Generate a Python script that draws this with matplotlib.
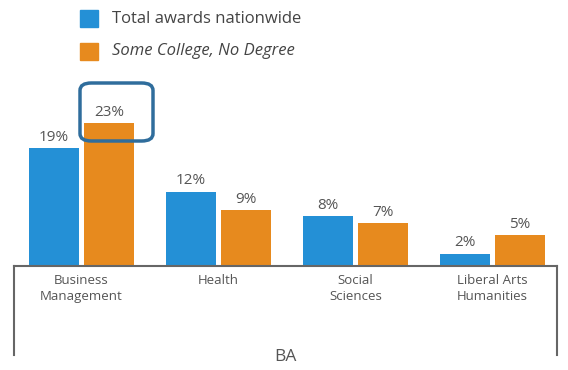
import matplotlib.pyplot as plt
import numpy as np
from matplotlib.patches import FancyBboxPatch, Rectangle

categories = ['Business\nManagement', 'Health', 'Social\nSciences', 'Liberal Arts\nHumanities']
total_awards = [19, 12, 8, 2]
some_college = [23, 9, 7, 5]

BLUE = '#2490d6'
ORANGE = '#e78a1e'
TEXT = '#555555'

plt.rcParams['font.family'] = ['Open Sans', 'DejaVu Sans']

fig = plt.figure(figsize=(5.68, 3.70), dpi=100)
W, H = 568, 370
ax = fig.add_axes([14 / W, 104 / H, 543 / W, 186 / H])

x = np.arange(len(categories))
off = 0.2
bw = 0.365
b1 = ax.bar(x - off, total_awards, bw, color=BLUE)
b2 = ax.bar(x + off, some_college, bw, color=ORANGE)

for bars, vals in ((b1, total_awards), (b2, some_college)):
    for r, v in zip(bars, vals):
        ax.text(r.get_x() + r.get_width() / 2, v + 0.5, f'{v}%',
                ha='center', va='bottom', fontsize=11, color=TEXT)

ax.set_xlim(-0.493, 3.471)
ax.set_ylim(0, 30)
ax.set_yticks([])
ax.set_xticks(x)
ax.set_xticklabels(categories, fontsize=9.5, color=TEXT, linespacing=1.3)
ax.tick_params(axis='x', length=0, pad=6)
for s in ('left', 'right', 'top'):
    ax.spines[s].set_visible(False)
ax.spines['bottom'].set_color('#666666')
ax.spines['bottom'].set_linewidth(1.5)

# bracket legs dropping below the baseline
for xa in (0, 1):
    ax.plot([xa, xa], [0, -0.478], transform=ax.transAxes, clip_on=False,
            color='#666666', lw=1.5)

ax.text(0.5, -0.49, 'BA', transform=ax.transAxes, ha='center', va='center',
        fontsize=12.5, color=TEXT)

# highlight around the largest value
hl = FancyBboxPatch((80 / W, (H - 141) / H), 73 / W, 58 / H,
                    boxstyle='round,pad=0,rounding_size=0.02',
                    transform=fig.transFigure, fill=False,
                    edgecolor='#2f6d9c', lw=2.5)
fig.patches.append(hl)

# legend
fig.patches.append(Rectangle((80 / W, (H - 27) / H), 18 / W, 17 / H,
                             transform=fig.transFigure, color=BLUE))
fig.patches.append(Rectangle((80 / W, (H - 60) / H), 18 / W, 17 / H,
                             transform=fig.transFigure, color=ORANGE))
fig.text(112 / W, (H - 19) / H, 'Total awards nationwide', va='center',
         fontsize=12, color='#444444')
fig.text(112 / W, (H - 51) / H, 'Some College, No Degree', va='center',
         fontsize=12, color='#444444', style='italic')

fig.savefig('out.png', dpi=100, facecolor='white')
